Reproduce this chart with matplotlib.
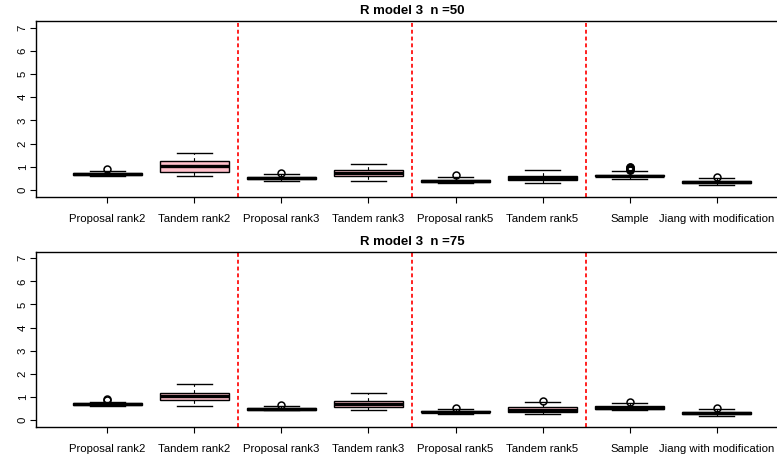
import matplotlib
matplotlib.use("Agg")
import matplotlib.pyplot as plt

plt.rcParams['font.family'] = ['Liberation Sans', 'DejaVu Sans']

categories = ["Proposal rank2", "Tandem rank2", "Proposal rank3", "Tandem rank3",
              "Proposal rank5", "Tandem rank5", "Sample", "Jiang with modification"]
yticks = [0, 1, 2, 3, 4, 5, 6, 7]
titles = ["R model 3  n =50", "R model 3  n =75"]
separators = [2.5, 4.5, 6.5]

# n = 50 panel
med_50 = [0.70, 1.05, 0.51, 0.73, 0.39, 0.52, 0.63, 0.36]
q1_50 = [0.66, 0.80, 0.47, 0.59, 0.35, 0.43, 0.59, 0.32]
q3_50 = [0.74, 1.27, 0.55, 0.88, 0.43, 0.63, 0.67, 0.40]
lo_50 = [0.59, 0.62, 0.41, 0.40, 0.30, 0.29, 0.50, 0.24]
hi_50 = [0.82, 1.59, 0.68, 1.14, 0.58, 0.88, 0.83, 0.53]
out_50 = [[0.93], [], [0.72], [], [0.64], [], [0.86, 0.89, 0.92, 0.95, 0.98, 1.01], [0.58]]

# n = 75 panel
med_75 = [0.69, 1.03, 0.49, 0.70, 0.37, 0.45, 0.54, 0.31]
q1_75 = [0.65, 0.86, 0.46, 0.56, 0.34, 0.34, 0.47, 0.27]
q3_75 = [0.74, 1.19, 0.53, 0.84, 0.40, 0.56, 0.62, 0.36]
lo_75 = [0.61, 0.60, 0.43, 0.43, 0.27, 0.27, 0.44, 0.20]
hi_75 = [0.78, 1.58, 0.60, 1.19, 0.49, 0.78, 0.74, 0.49]
out_75 = [[0.86, 0.90], [], [0.65], [], [0.54], [0.85], [0.80], [0.51]]

panels = [(med_50, q1_50, q3_50, lo_50, hi_50, out_50),
          (med_75, q1_75, q3_75, lo_75, hi_75, out_75)]

W, H = 777, 459
fig = plt.figure(figsize=(W / 100, H / 100), dpi=100)
axes_px = [(21, 196.7), (251.7, 426.7)]
left_px, right_px = 36, 788

for (top_px, bot_px), title, (med, q1, q3, lo, hi, out) in zip(axes_px, titles, panels):
    ax = fig.add_axes([left_px / W, 1 - bot_px / H, (right_px - left_px) / W, (bot_px - top_px) / H])
    stats = []
    for i, lab in enumerate(categories):
        stats.append(dict(med=med[i], q1=q1[i], q3=q3[i], whislo=lo[i], whishi=hi[i],
                          fliers=out[i], label=lab))
    pos = list(range(1, len(categories) + 1))
    ax.bxp(stats, positions=pos, widths=0.8, capwidths=0.4, patch_artist=True,
           showfliers=True,
           boxprops=dict(facecolor='pink', edgecolor='black', linewidth=1.0),
           medianprops=dict(color='black', linewidth=2.4, solid_capstyle='butt'),
           whiskerprops=dict(color='black', linewidth=0.8, linestyle=(0, (3, 3))),
           capprops=dict(color='black', linewidth=1.0),
           flierprops=dict(marker='o', markerfacecolor='none', markeredgecolor='black',
                           markersize=5, markeredgewidth=1.1))
    for s in separators:
        ax.axvline(s, color='#ff2020', linewidth=1.4, linestyle=(0, (2, 1.5)))
    ax.set_xlim(0.18, 8.82)
    ax.set_ylim(-0.28, 7.28)
    ax.set_yticks(yticks)
    ax.set_yticklabels([str(t) for t in yticks], rotation=90, va='center')
    ax.set_xticks(pos)
    ax.set_xticklabels(categories)
    ax.tick_params(axis='both', direction='out', length=4.5, width=0.8, labelsize=8.2,
                   colors='black')
    ax.tick_params(axis='x', pad=8)
    ax.tick_params(axis='y', pad=1.5)
    for sp in ax.spines.values():
        sp.set_linewidth(1.0)
        sp.set_color('black')
    ax.set_title(title, fontsize=9.5, fontweight='bold', pad=5)

fig.savefig("out.png", dpi=100)
